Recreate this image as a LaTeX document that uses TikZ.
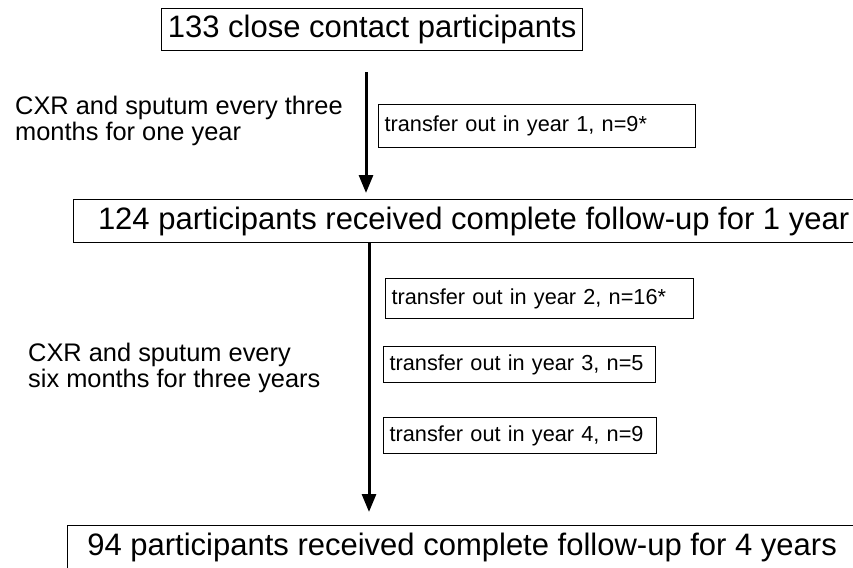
\documentclass[tikz,border=0pt]{standalone}
\usepackage{fontspec}
\setmainfont{Liberation Sans}
\usetikzlibrary{arrows.meta}
\begin{document}
\begin{tikzpicture}[x=1pt,y=-1pt,
  bigbox/.style={draw, line width=1.3pt, anchor=north west, inner sep=0pt,
    font=\fontsize{31}{35}\selectfont},
  tbox/.style={draw, line width=1.3pt, anchor=north west, inner xsep=6pt, inner ysep=0pt,
    align=left, font=\fontsize{21.7}{25}\selectfont},
  note/.style={anchor=base west, align=left, inner sep=0pt,
    font=\fontsize{25.4}{25.5}\selectfont},
  arr/.style={line width=3pt, -{Triangle[length=18pt,width=14pt]}}]
\useasboundingbox (0,0) rectangle (853,567);
\fill[white] (0,0) rectangle (853,567);

\node[bigbox, minimum width=421pt, minimum height=42pt] (top) at (161,8) {133 close contact participants};
\node[bigbox, minimum width=800pt, minimum height=43pt] (mid) at (73,199) {124 participants received complete follow-up for 1 year};
\node[bigbox, minimum width=789pt, minimum height=44pt] (bot) at (67,525) {94 participants received complete follow-up for 4 years};

\node[tbox, text width=305pt, minimum height=43pt] (t1) at (378,104) {\mbox{transfer out in year 1, n=9*}};
\node[tbox, text width=296pt, minimum height=40pt] (t2) at (385,278) {\mbox{transfer out in year 2, n=16*}};
\node[tbox, text width=260pt, minimum height=36pt] (t3) at (383,346) {\mbox{transfer out in year 3, n=5}};
\node[tbox, text width=261pt, minimum height=36pt] (t4) at (383,417) {\mbox{transfer out in year 4, n=9}};

\node[note] (n1) at (15,140) {CXR and sputum every three\\months for one year};
\node[note] (n2) at (28,387) {CXR and sputum every\\six months for three years};

\coordinate (a1x) at (366,0);
\coordinate (a2x) at (369,0);
\draw[arr, shorten <=21pt, shorten >=6pt] (top.south -| a1x) -- (mid.north -| a1x);
\draw[arr, shorten >=13pt] (mid.south -| a2x) -- (bot.north -| a2x);
\end{tikzpicture}
\end{document}
